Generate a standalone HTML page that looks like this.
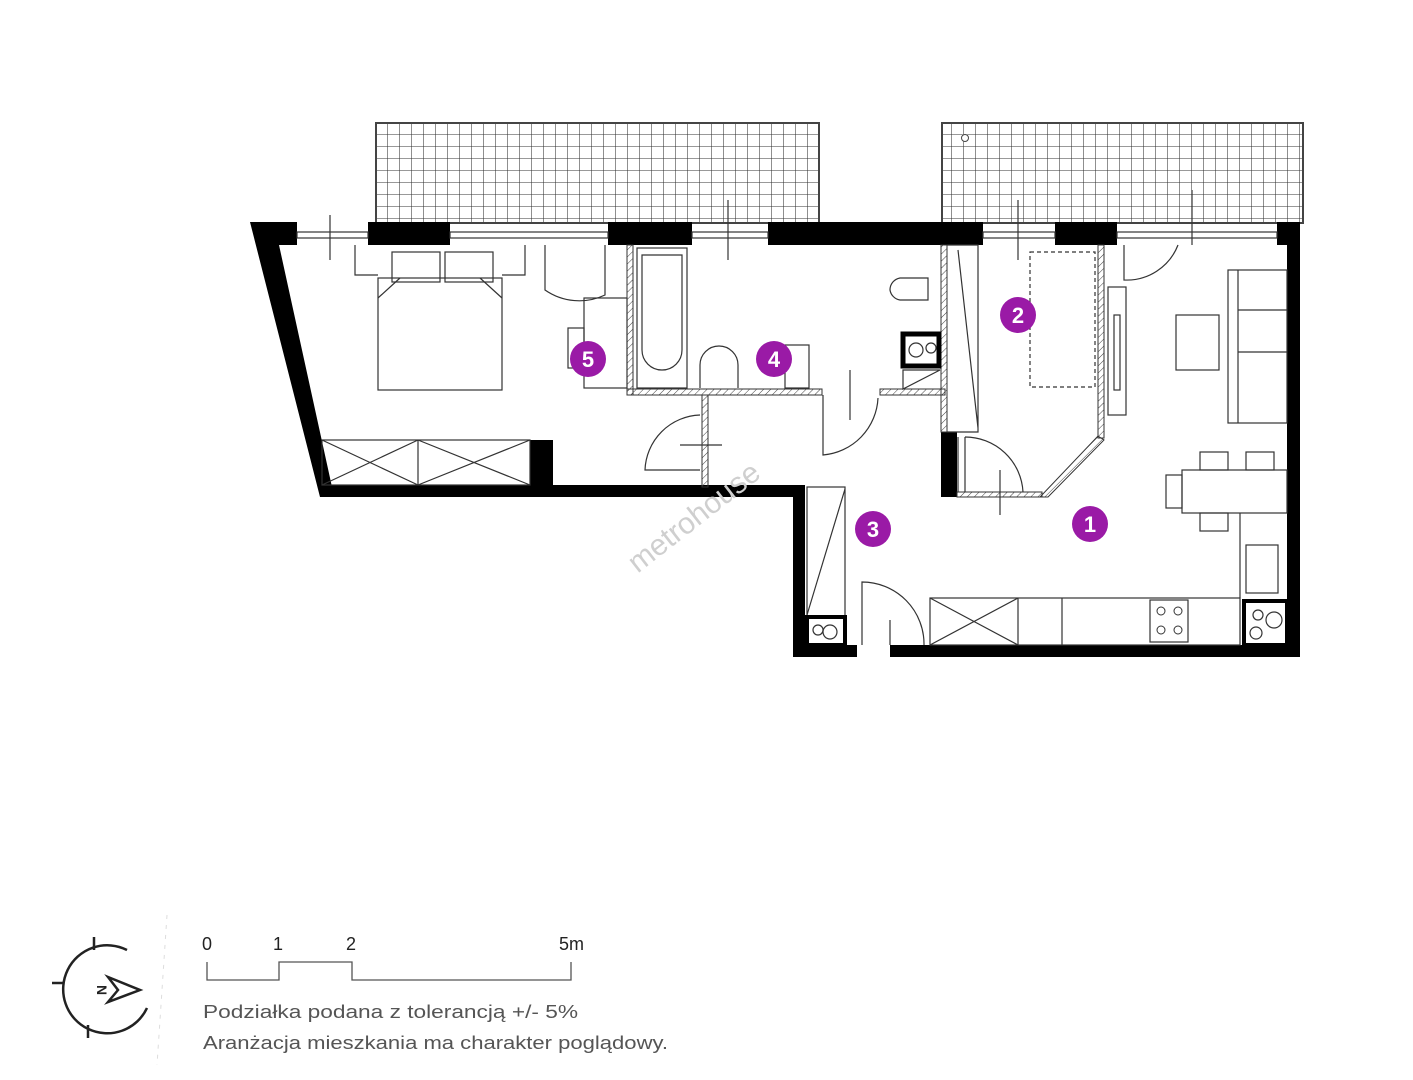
<!DOCTYPE html>
<html><head><meta charset="utf-8"><style>
html,body{margin:0;padding:0;background:#fff;}
svg{display:block}
text{font-family:"Liberation Sans",sans-serif}
</style></head><body>
<svg width="1413" height="1080" viewBox="0 0 1413 1080" xmlns="http://www.w3.org/2000/svg">
<defs>
<pattern id="grid" x="376" y="123" width="12" height="12" patternUnits="userSpaceOnUse">
<path d="M12 0V12M0 12H12" stroke="#333" stroke-width="1.1" fill="none"/>
</pattern>
<pattern id="hatch" width="5" height="5" patternUnits="userSpaceOnUse" patternTransform="rotate(45)">
<path d="M0 0V5" stroke="#444" stroke-width="1"/>
</pattern>
</defs>
<!-- balconies -->
<rect x="376" y="123" width="443" height="100" fill="url(#grid)" stroke="#444" stroke-width="2"/>
<rect x="942" y="123" width="361" height="100" fill="url(#grid)" stroke="#444" stroke-width="2"/>
<circle cx="965" cy="138" r="3.5" fill="#fff" stroke="#444"/>
<!-- top wall segments -->
<g fill="#000">
<polygon points="250,222 297,222 297,245 279,245 332,487 320,497"/>
<rect x="368" y="222" width="82" height="23"/>
<rect x="608" y="222" width="84" height="23"/>
<rect x="768" y="222" width="215" height="23"/>
<rect x="1055" y="222" width="62" height="23"/>
<rect x="1277" y="222" width="23" height="23"/>
<rect x="1287" y="222" width="13" height="435"/>
<polygon points="320,485 805,485 805,497 320,497"/>
<rect x="530" y="440" width="23" height="50"/>
<rect x="793" y="485" width="12" height="172"/>
<rect x="793" y="645" width="64" height="12"/>
<rect x="890" y="645" width="410" height="12"/>
<rect x="941" y="432" width="16" height="65"/>
</g>
<!-- windows -->
<g fill="none" stroke="#333" stroke-width="1.2">
<rect x="297" y="232" width="71" height="6"/><rect x="450" y="232" width="158" height="6"/>
<rect x="692" y="232" width="76" height="6"/><rect x="983" y="232" width="72" height="6"/>
<rect x="1117" y="232" width="160" height="6"/>
<line x1="330" y1="215" x2="330" y2="260"/><line x1="728" y1="200" x2="728" y2="260"/>
<line x1="1018" y1="200" x2="1018" y2="260"/><line x1="1192" y1="190" x2="1192" y2="245"/>
<path d="M545 245 V290 A60 60 0 0 0 605 295 V245" />
<path d="M1124 245 V280 A55 55 0 0 0 1178 245"/>
</g>
<!-- thin hatched walls -->
<g fill="url(#hatch)" stroke="#333" stroke-width="1">
<rect x="627" y="245" width="6" height="150"/>
<rect x="627" y="389" width="195" height="6"/>
<rect x="880" y="389" width="65" height="6"/>
<rect x="702" y="395" width="6" height="92"/>
<rect x="941" y="245" width="6" height="187"/>
<rect x="1098" y="245" width="6" height="193"/>
<polygon points="1098,436 1104,440 1048,497 1040,497"/>
<rect x="957" y="492" width="85" height="5"/>
</g>
<g fill="none" stroke="#333" stroke-width="1.2">
<!-- bedroom -->
<rect x="378" y="278" width="124" height="112"/>
<rect x="392" y="252" width="48" height="30"/><rect x="445" y="252" width="48" height="30"/>
<path d="M378 298 L400 278 M502 298 L480 278"/>
<path d="M355 245 V275 H378 M502 275 H525 V245"/>
<rect x="584" y="298" width="43" height="90"/>
<rect x="568" y="328" width="16" height="40"/>
<rect x="322" y="440" width="208" height="45"/>
<path d="M322 440 L418 485 M418 440 L322 485 M418 440 L530 485 M530 440 L418 485 M418 440 V485"/>
<!-- bath -->
<rect x="637" y="248" width="50" height="140"/>
<path d="M642 255 V350 A20 20 0 0 0 682 350 V255 Z"/>
<path d="M700 388 V365 A17 17 0 0 1 738 365 V388"/>
<rect x="785" y="345" width="24" height="43"/>
<path d="M890 290 A12 12 0 0 1 900 278 H928 V300 H900 A12 12 0 0 1 890 290Z"/>
<rect x="903" y="334" width="36" height="32" stroke="#000" stroke-width="5"/>
<circle cx="916" cy="350" r="7"/><circle cx="931" cy="348" r="5"/>
<path d="M903 370 H940 L903 389 Z"/>
<!-- doors -->
<path d="M823 395 V455 A60 60 0 0 0 878 398"/>
<line x1="850" y1="370" x2="850" y2="420"/>
<path d="M700 470 H645 A57 57 0 0 1 700 415"/>
<line x1="680" y1="445" x2="722" y2="445"/>
<path d="M958 437 V492 M965 437 V492"/>
<path d="M965 437 A58 58 0 0 1 1023 492"/>
<line x1="1000" y1="470" x2="1000" y2="515"/>
<!-- wardrobe panels -->
<path d="M947 245 H978 V432 H947 M958 250 L978 428"/>
<rect x="807" y="487" width="38" height="130"/>
<path d="M807 615 L845 489"/>
<rect x="807" y="617" width="38" height="28" stroke="#000" stroke-width="4"/>
<circle cx="818" cy="630" r="5"/><circle cx="830" cy="632" r="7"/>
<path d="M862 645 V582 A62 62 0 0 1 924 645"/>
<line x1="890" y1="620" x2="890" y2="645"/>
<!-- room 2 desk dashed -->
<rect x="1030" y="252" width="65" height="135" stroke-dasharray="4 3"/>
<rect x="1108" y="287" width="18" height="128"/>
<rect x="1114" y="315" width="6" height="75"/>
<!-- living -->
<rect x="1176" y="315" width="43" height="55"/>
<rect x="1228" y="270" width="59" height="153"/>
<path d="M1238 270 V423 M1238 310 H1287 M1238 352 H1287"/>
<rect x="1182" y="470" width="105" height="43"/>
<rect x="1166" y="475" width="16" height="33"/>
<rect x="1200" y="452" width="28" height="18"/><rect x="1246" y="452" width="28" height="18"/>
<rect x="1200" y="513" width="28" height="18"/>
<path d="M1240 513 V598"/>
<rect x="1246" y="545" width="32" height="48"/>
<rect x="1244" y="601" width="43" height="44" stroke="#000" stroke-width="4"/>
<circle cx="1258" cy="615" r="5"/><circle cx="1274" cy="620" r="8"/><circle cx="1256" cy="633" r="6"/>
<rect x="930" y="598" width="310" height="47"/>
<path d="M930 598 L1018 645 M1018 598 L930 645 M1018 598 V645 M1062 598 V645"/>
<rect x="1150" y="600" width="38" height="42"/>
<g stroke-width="1"><circle cx="1161" cy="611" r="4"/><circle cx="1178" cy="611" r="4"/><circle cx="1161" cy="630" r="4"/><circle cx="1178" cy="630" r="4"/></g>
</g>
<!-- watermark -->
<text x="700" y="525" font-size="30" fill="#cfcfcf" text-anchor="middle" transform="rotate(-38 700 525)">metrohouse</text>
<!-- room numbers -->
<g font-size="22" font-weight="bold" fill="#fff" text-anchor="middle">
<circle cx="588" cy="359" r="18" fill="#9a1aa6"/><text x="588" y="367">5</text>
<circle cx="774" cy="359" r="18" fill="#9a1aa6"/><text x="774" y="367">4</text>
<circle cx="1018" cy="315" r="18" fill="#9a1aa6"/><text x="1018" y="323">2</text>
<circle cx="873" cy="529" r="18" fill="#9a1aa6"/><text x="873" y="537">3</text>
<circle cx="1090" cy="524" r="18" fill="#9a1aa6"/><text x="1090" y="532">1</text>
</g>
<!-- legend -->
<line x1="167" y1="915" x2="157" y2="1065" stroke="#ddd" stroke-dasharray="4 6"/>
<g fill="none" stroke="#222" stroke-width="2.5">
<path d="M127 950 A44 44 0 1 0 147 1008" />
<line x1="94" y1="937" x2="94" y2="950"/><line x1="88" y1="1025" x2="88" y2="1038"/>
<line x1="52" y1="983" x2="64" y2="983"/>
<polygon points="108,977 140,990 108,1002 118,990"/>
</g>
<text x="99" y="997" font-size="14" font-weight="bold" fill="#222" transform="rotate(90 104 990)">N</text>
<g font-size="18" fill="#222">
<text x="202" y="950">0</text><text x="273" y="950">1</text><text x="346" y="950">2</text><text x="559" y="950">5m</text>
</g>
<path d="M207 962 V980 H279 V962 H352 V980 H571 V962" fill="none" stroke="#555" stroke-width="1.3"/>
<text x="203" y="1018" font-size="18" fill="#555" textLength="375" lengthAdjust="spacingAndGlyphs">Podziałka podana z tolerancją +/- 5%</text>
<text x="203" y="1049" font-size="18" fill="#555" textLength="465" lengthAdjust="spacingAndGlyphs">Aranżacja mieszkania ma charakter poglądowy.</text>
</svg>
</body></html>
